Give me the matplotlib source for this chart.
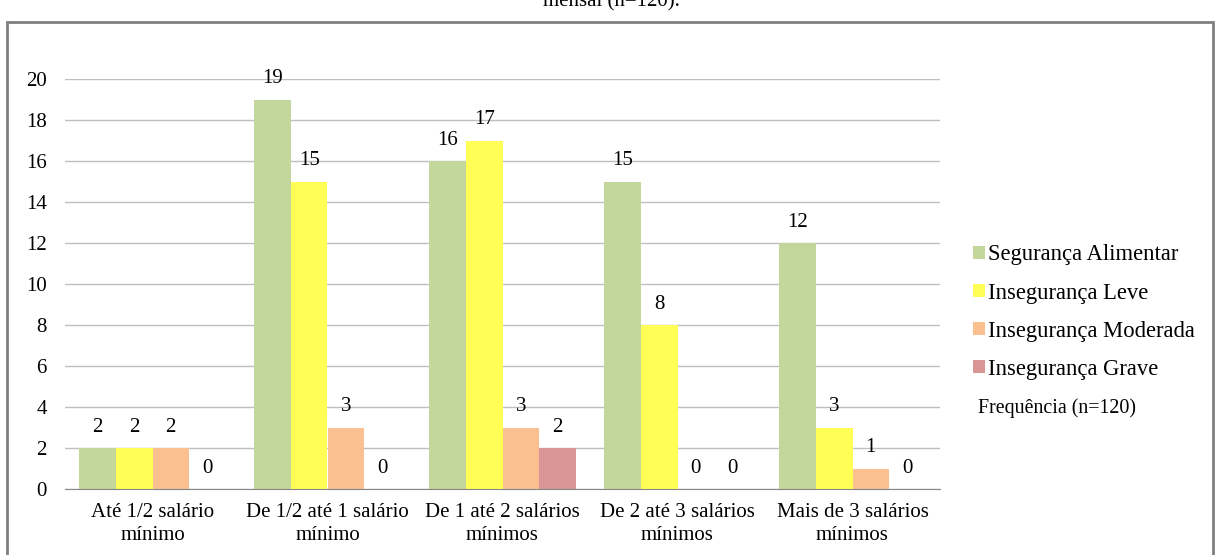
import matplotlib.pyplot as plt
import numpy as np
from matplotlib.patches import Rectangle

plt.rcParams['font.family'] = ['Liberation Serif', 'DejaVu Serif']

# Dados
categorias = ['Até 1/2 salário\nmínimo', 'De 1/2 até 1 salário\nmínimo',
              'De 1 até 2 salários\nmínimos', 'De 2 até 3 salários\nmínimos',
              'Mais de 3 salários\nmínimos']
seguranca = [2, 19, 16, 15, 12]
inseg_leve = [2, 15, 17, 8, 3]
inseg_moderada = [2, 3, 3, 0, 1]
inseg_grave = [0, 0, 2, 0, 0]

series = [
    ('Segurança Alimentar', seguranca, '#C3D69B'),
    ('Insegurança Leve', inseg_leve, '#FFFF55'),
    ('Insegurança Moderada', inseg_moderada, '#FAC090'),
    ('Insegurança Grave', inseg_grave, '#D99694'),
]

fig = plt.figure(figsize=(12.16, 5.55), dpi=100)
ax = fig.add_axes([65/1216, 1-489/555, 875/1216, 410/555])

x = np.arange(len(categorias))
largura = 0.209
for i, (nome, valores, cor) in enumerate(series):
    pos = x - 1.5*largura + i*largura
    barras = ax.bar(pos, valores, largura, color=cor, label=nome, zorder=3)
    for b, v in zip(barras, valores):
        ax.annotate(str(v), (b.get_x() + b.get_width()/2, v),
                    xytext=(0, 15), textcoords='offset points',
                    ha='center', va='center', fontsize=15)

ax.set_xlim(-0.5, len(categorias) - 0.5)
ax.set_ylim(0, 20)
ax.set_yticks(range(0, 21, 2))
ax.set_xticks(x)
ax.set_xticklabels(categorias, fontsize=15, linespacing=1.3)
ax.tick_params(axis='y', length=0, pad=13, labelsize=15)
ax.tick_params(axis='x', length=0, pad=10)
ax.grid(axis='y', color='#BFBFBF', linewidth=1, zorder=0)
for s in ['top', 'right', 'left']:
    ax.spines[s].set_visible(False)
ax.spines['bottom'].set_color('#868686')
ax.spines['bottom'].set_zorder(4)

leg = fig.legend(loc='upper left', bbox_to_anchor=(962/1216, 1-233/555),
                 frameon=False, fontsize=16.3, handlelength=0.5,
                 handleheight=0.5, handletextpad=0.15, labelspacing=0.76,
                 borderpad=0)

fig.text(978/1216, 1-408/555, 'Frequência (n=120)', fontsize=14.4,
         va='center', ha='left')

# Título cortado no topo
fig.text(0.503, 1-6/555, 'mensal (n=120).', fontsize=15, ha='center',
         va='baseline')

# Moldura
fig.patches.append(Rectangle((7/1216, -0.05), (1213-7)/1216, 1.05-22/555,
                             transform=fig.transFigure, fill=False,
                             edgecolor='#7F7F7F', linewidth=2))

fig.savefig('out.png', dpi=100)
